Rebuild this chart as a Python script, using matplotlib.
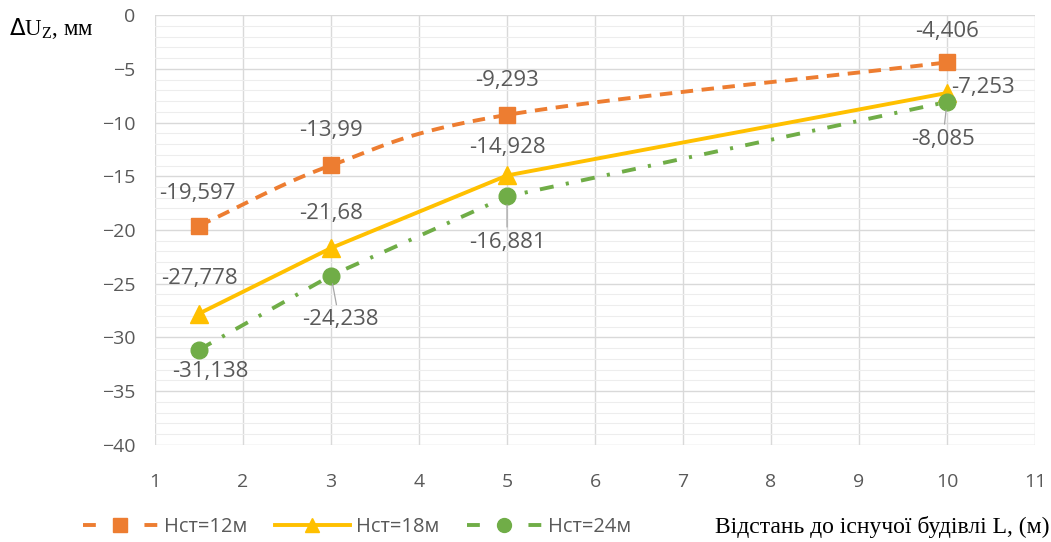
import numpy as np
import matplotlib.pyplot as plt
from matplotlib.lines import Line2D

x_vals = [1.5, 3, 5, 10]
h12 = [-19.597, -13.99, -9.293, -4.406]
h18 = [-27.778, -21.68, -14.928, -7.253]
h24 = [-31.138, -24.238, -16.881, -8.085]
labels = ["Нст=12м", "Нст=18м", "Нст=24м"]

c12 = "#ED7D31"
c18 = "#FFC000"
c24 = "#70AD47"
grey = "#595959"


def fmt(v):
    return ("%g" % v).replace(".", ",")


def smooth(xs, ys, n=40):
    # catmull-rom curve through the points, like a smoothed office chart line
    xs = np.asarray(xs, float)
    ys = np.asarray(ys, float)
    px = np.r_[2 * xs[0] - xs[1], xs, 2 * xs[-1] - xs[-2]]
    py = np.r_[2 * ys[0] - ys[1], ys, 2 * ys[-1] - ys[-2]]
    ox, oy = [], []
    t = np.linspace(0, 1, n)
    for i in range(1, len(px) - 2):
        for arr, out in ((px, ox), (py, oy)):
            p0, p1, p2, p3 = arr[i - 1], arr[i], arr[i + 1], arr[i + 2]
            out.extend(0.5 * ((2 * p1) + (-p0 + p2) * t
                              + (2 * p0 - 5 * p1 + 4 * p2 - p3) * t ** 2
                              + (-p0 + 3 * p1 - 3 * p2 + p3) * t ** 3))
    return ox, oy


fig = plt.figure(figsize=(10.51, 5.42), dpi=100)
ax = fig.add_axes([0.1475, 0.179, 0.8373, 0.7933])

ax.set_xlim(1, 11)
ax.set_ylim(-40, 0)
ax.set_xticks(range(1, 12))
ax.set_yticks(range(-40, 1, 5))
ax.set_yticks(range(-40, 1, 1), minor=True)
ax.grid(True, which="major", color="#D9D9D9", lw=1)
ax.grid(True, which="minor", axis="y", color="#EDEDED", lw=0.8)
ax.set_axisbelow(True)
for s in ax.spines.values():
    s.set_visible(False)
ax.tick_params(which="both", length=0, labelsize=14, colors=grey)
ax.tick_params(axis="y", pad=14)
ax.tick_params(axis="x", pad=20)
for lab in ax.get_xticklabels() + ax.get_yticklabels():
    lab.set_fontfamily("Open Sans")

lw = 2.8
sx, sy = smooth(x_vals, h12)
ax.plot(sx, sy, color=c12, lw=lw, ls=(0, (3.2, 2.2)))
ax.plot(x_vals, h12, "s", color=c12, ms=12)
ax.plot(x_vals, h18, color=c18, lw=lw, marker="^", ms=13)
ax.plot(x_vals, h24, color=c24, lw=lw, ls=(0, (3.6, 3.2, 0.8, 3.2)),
        marker="o", ms=12)

lbl = dict(fontsize=16, color=grey, family="Open Sans")
offs12 = [(-1, 23), (0, 25), (0, 25), (0, 22)]
for (x, y), o in zip(zip(x_vals, h12), offs12):
    ax.annotate(fmt(y), (x, y), xytext=o, textcoords="offset points",
                ha="center", va="center", **lbl)
offs18 = [(0, 25), (0, 25), (0, 20), (26, 4)]
for (x, y), o in zip(zip(x_vals, h18), offs18):
    ax.annotate(fmt(y), (x, y), xytext=o, textcoords="offset points",
                ha="center", va="center", **lbl)
offs24 = [(8, -16), (6.5, -32), (0, -33), (-3, -27)]
for (x, y), o in zip(zip(x_vals, h24), offs24):
    ax.annotate(fmt(y), (x, y), xytext=o, textcoords="offset points",
                ha="center", va="center", **lbl)
    # short leader line for labels pushed further away
    if o[1] < -20:
        ax.annotate("", (x, y), xytext=(o[0] * 0.6, o[1] + 11),
                    textcoords="offset points",
                    arrowprops=dict(arrowstyle="-", color="#A6A6A6", lw=0.9,
                                    shrinkA=0, shrinkB=6))

fig.text(0.009, 0.948, r"$\Delta$U$_\mathregular{Z}$, мм", fontsize=16.5,
         family="Liberation Serif", va="center")
fig.text(0.999, 0.028, "Відстань до існучої будівлі L, (м)", fontsize=17,
         family="Liberation Serif", ha="right", va="center")

handles = [
    Line2D([], [], color=c12, lw=lw, ls=(0, (3.3, 4.6)), marker="s", ms=10),
    Line2D([], [], color=c18, lw=lw, marker="^", ms=10),
    Line2D([], [], color=c24, lw=lw, ls=(0, (3.3, 4.6)), marker="o", ms=10),
]
fig.legend(handles, labels, loc="center left", bbox_to_anchor=(0.079, 0.028),
           ncol=3, frameon=False, handlelength=3.7, handletextpad=0.3,
           columnspacing=1.4, borderpad=0, borderaxespad=0,
           prop={"family": "Open Sans", "size": 14.5}, labelcolor=grey)

fig.savefig("out.png", dpi=100)
